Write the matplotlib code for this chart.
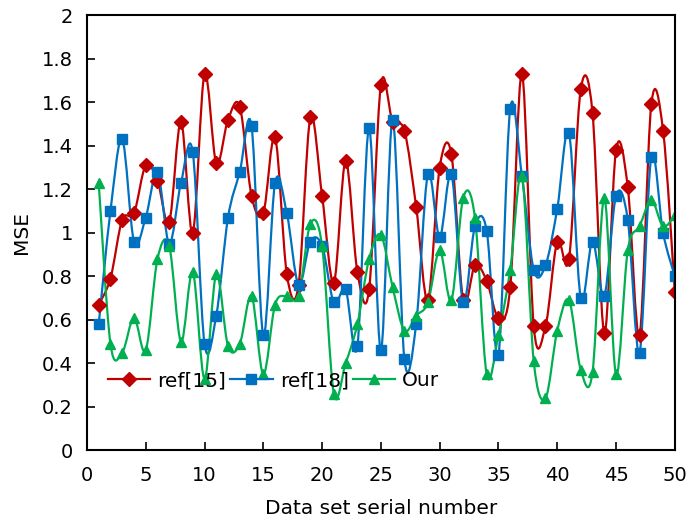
import matplotlib
matplotlib.use('Agg')
import matplotlib.pyplot as plt
import numpy as np
from matplotlib.path import Path
from matplotlib.patches import PathPatch
from matplotlib.lines import Line2D

# Data
serial = np.arange(1, 51)
ref15 = [0.67, 0.79, 1.06, 1.09, 1.31, 1.24, 1.05, 1.51, 1.00, 1.73,
         1.32, 1.52, 1.58, 1.17, 1.09, 1.44, 0.81, 0.76, 1.53, 1.17,
         0.77, 1.33, 0.82, 0.74, 1.68, 1.51, 1.47, 1.12, 0.69, 1.30,
         1.36, 0.69, 0.85, 0.78, 0.61, 0.75, 1.73, 0.57, 0.57, 0.96,
         0.88, 1.66, 1.55, 0.54, 1.38, 1.21, 0.53, 1.59, 1.47, 0.73]
ref18 = [0.58, 1.10, 1.43, 0.96, 1.07, 1.28, 0.95, 1.23, 1.37, 0.49,
         0.62, 1.07, 1.28, 1.49, 0.53, 1.23, 1.09, 0.76, 0.96, 0.94,
         0.68, 0.74, 0.48, 1.48, 0.46, 1.52, 0.42, 0.58, 1.27, 0.98,
         1.27, 0.68, 1.03, 1.01, 0.44, 1.57, 1.26, 0.83, 0.85, 1.11,
         1.46, 0.70, 0.96, 0.71, 1.17, 1.06, 0.45, 1.35, 1.00, 0.80]
ours = [1.23, 0.49, 0.45, 0.61, 0.46, 0.88, 0.94, 0.50, 0.82, 0.33,
        0.81, 0.48, 0.49, 0.71, 0.35, 0.67, 0.71, 0.71, 1.04, 0.94,
        0.26, 0.40, 0.58, 0.88, 0.99, 0.75, 0.55, 0.62, 0.68, 0.92,
        0.69, 1.16, 1.07, 0.35, 0.53, 0.83, 1.26, 0.41, 0.24, 0.55,
        0.69, 0.37, 0.36, 1.16, 0.35, 0.92, 1.03, 1.15, 1.03, 1.08]

labels = ['ref[15]', 'ref[18]', 'Our']
colors = ['#C00000', '#0070C0', '#00B050']
markers = ['D', 's', '^']
msizes = [7, 7, 7.5]


def smooth_path(x, y):
    # Excel-style smoothed line: cubic Bezier segments through the points
    pts = np.column_stack([x, y]).astype(float)
    n = len(pts)
    verts = [pts[0]]
    codes = [Path.MOVETO]
    for i in range(n - 1):
        p0 = pts[i - 1] if i > 0 else pts[i]
        p1 = pts[i]
        p2 = pts[i + 1]
        p3 = pts[i + 2] if i + 2 < n else pts[i + 1]
        c1 = p1 + (p2 - p0) / 6.0
        c2 = p2 - (p3 - p1) / 6.0
        verts += [c1, c2, p2]
        codes += [Path.CURVE4] * 3
    return Path(verts, codes)


plt.rcParams['font.family'] = ['DejaVu Sans']
plt.rcParams['font.size'] = 14

fig = plt.figure(figsize=(6.9, 5.22), dpi=100)
ax = fig.add_axes([0.126, 0.137, 0.852, 0.834])

handles = []
for ys, lab, c, m, ms in zip([ref15, ref18, ours], labels, colors, markers, msizes):
    ax.add_patch(PathPatch(smooth_path(serial, ys), facecolor='none',
                           edgecolor=c, lw=1.6))
    ax.plot(serial, ys, linestyle='none', marker=m, ms=ms, color=c,
            markeredgecolor=c)
    handles.append(Line2D([], [], color=c, lw=1.6, marker=m, ms=ms))

ax.set_xlim(0, 50)
ax.set_ylim(0, 2)
ax.set_xticks(np.arange(0, 51, 5))
yt = np.round(np.arange(0, 2.01, 0.2), 1)
ax.set_yticks(yt)
ax.set_yticklabels(['%g' % v for v in yt])
ax.tick_params(direction='in', length=5.5, width=1.2, labelsize=14)
ax.tick_params(axis='y', pad=10)
ax.tick_params(axis='x', pad=11)
for s in ax.spines.values():
    s.set_linewidth(1.5)

ax.set_xlabel('Data set serial number', fontsize=14.5, labelpad=10)
ax.set_ylabel('MSE', fontsize=14.5, labelpad=8)

ax.legend(handles, labels, loc='center left', bbox_to_anchor=(0.036, 0.16),
          ncol=3, frameon=False, fontsize=14.5, handlelength=2.1,
          handletextpad=0.35, columnspacing=0.2, borderpad=0, borderaxespad=0)

fig.savefig('out.png', dpi=100)
